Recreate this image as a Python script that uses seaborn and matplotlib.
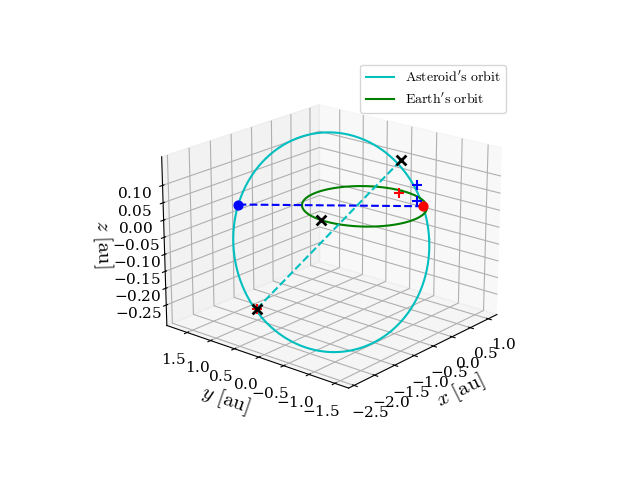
import numpy as np
import matplotlib
matplotlib.use("Agg")
import matplotlib.pyplot as plt
import seaborn as sns

sns.reset_orig()
plt.rcParams["mathtext.fontset"] = "cm"
plt.rcParams["font.family"] = "serif"
plt.rcParams["font.serif"] = ["DejaVu Serif"]
plt.rcParams["axes.formatter.use_mathtext"] = True
plt.rcParams["xtick.labelsize"] = 11
plt.rcParams["ytick.labelsize"] = 11
pal = sns.color_palette(["c", "g", "b", "r", "k"])

# orbit parameter samples
t = np.linspace(0, 2 * np.pi, 400)
ast_x = -0.74 + 0.992 * np.cos(t) + 1.31 * np.sin(t)
ast_y = 0.09 - 1.194 * np.cos(t) + 1.09 * np.sin(t)
ast_z = -0.065 + 0.215 * np.sin(t)
earth_x = np.cos(t)
earth_y = np.sin(t)
earth_z = np.zeros_like(t)

node_x = [0.60, -1.29]
node_y = [-0.72, 1.56]
node_z = [0.0, 0.0]
cross_x = [-1.80, 0.85]
cross_y = [0.75, -0.08]
cross_z = [-0.25, 0.10]
earth_pos = ([-0.99], [0.09], [0.0])
bplus_x = [0.78, 0.54]; bplus_y = [-0.47, -0.65]; bplus_z = [0.045, 0.015]
rplus_x = [0.67, -1.80]; rplus_y = [-0.18, 0.75]; rplus_z = [0.015, -0.25]

fig = plt.figure(figsize=(6.4, 4.8), dpi=100)
ax = fig.add_subplot(projection="3d")
ax.plot(ast_x, ast_y, ast_z, color=pal[0], label=r"$\mathrm{Asteroid's\ orbit}$")
ax.plot(earth_x, earth_y, earth_z, color=pal[1], label=r"$\mathrm{Earth's\ orbit}$")
ax.plot(node_x, node_y, node_z, "--", color=pal[2])
ax.plot(cross_x, cross_y, cross_z, "--", color=pal[0])
ax.scatter([node_x[0]], [node_y[0]], [node_z[0]], color=pal[3], s=40, depthshade=False)
ax.scatter([node_x[1]], [node_y[1]], [node_z[1]], color=pal[2], s=40, depthshade=False)
ax.scatter(rplus_x, rplus_y, rplus_z, color=pal[3], marker="+", s=60, linewidths=1.5, depthshade=False)
ax.scatter(cross_x + earth_pos[0], cross_y + earth_pos[1], cross_z + earth_pos[2],
           color=pal[4], marker="x", s=50, linewidths=2, depthshade=False)
ax.scatter(bplus_x, bplus_y, bplus_z, color=pal[2], marker="+", s=60, linewidths=1.5, depthshade=False)
ax.set_xlabel(r"$x\ [\mathrm{au}]$", fontsize=15)
ax.set_ylabel(r"$y\ [\mathrm{au}]$", fontsize=15)
ax.set_zlabel(r"$z\ [\mathrm{au}]$", fontsize=15)
ax.set_xticks([-2.5, -2.0, -1.5, -1.0, -0.5, 0.0, 0.5, 1.0])
ax.set_yticks([-1.5, -1.0, -0.5, 0.0, 0.5, 1.0, 1.5])
ax.set_zticks([-0.25, -0.2, -0.15, -0.1, -0.05, 0.0, 0.05, 0.1])
ax.view_init(elev=20, azim=-140)
ax.legend(loc="upper right")
fig.savefig("out.png")
